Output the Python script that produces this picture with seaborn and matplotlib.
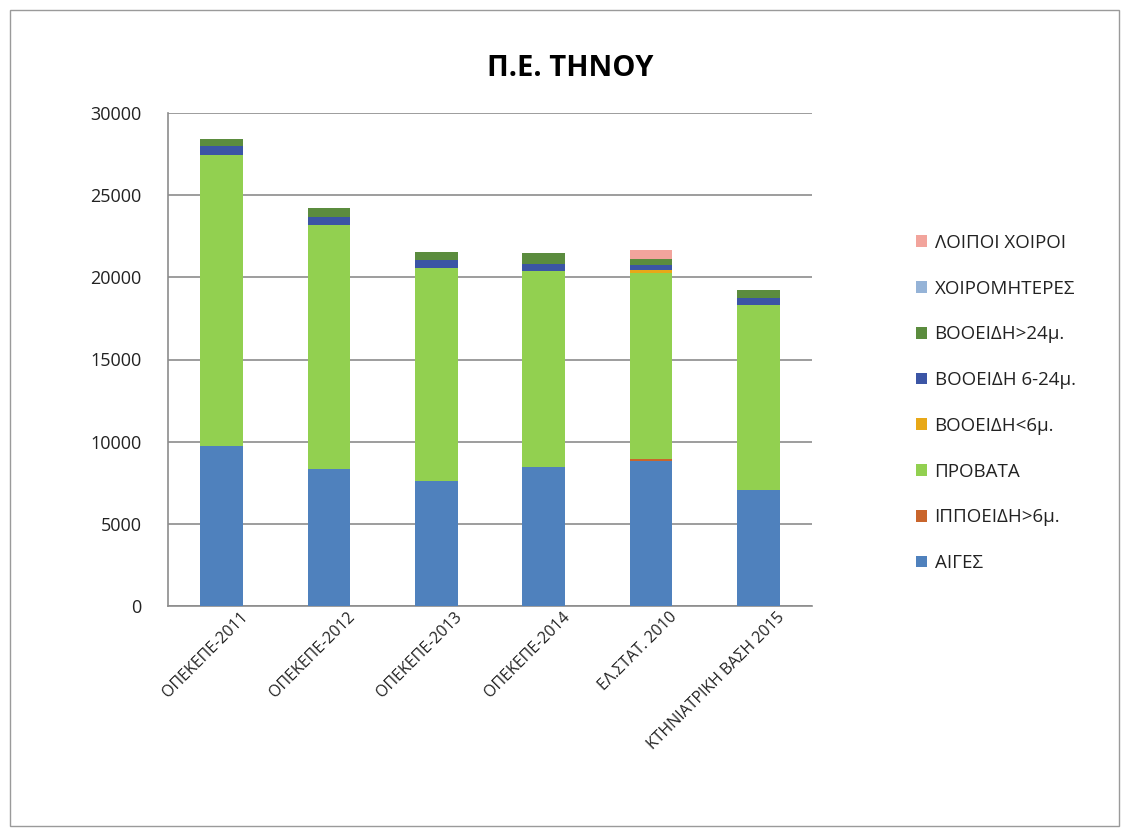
import matplotlib
matplotlib.use("Agg")
import matplotlib.pyplot as plt
import matplotlib.transforms as mtransforms
import seaborn as sns
import numpy as np
from matplotlib.patches import Rectangle, Patch

categories = ["ΟΠΕΚΕΠΕ-2011", "ΟΠΕΚΕΠΕ-2012", "ΟΠΕΚΕΠΕ-2013", "ΟΠΕΚΕΠΕ-2014",
              "ΕΛ.ΣΤΑΤ. 2010", "ΚΤΗΝΙΑΤΡΙΚΗ ΒΑΣΗ 2015"]

series_names = ["ΑΙΓΕΣ", "ΙΠΠΟΕΙΔΗ>6μ.", "ΠΡΟΒΑΤΑ", "ΒΟΟΕΙΔΗ<6μ.",
                "ΒΟΟΕΙΔΗ 6-24μ.", "ΒΟΟΕΙΔΗ>24μ.", "ΧΟΙΡΟΜΗΤΕΡΕΣ", "ΛΟΙΠΟΙ ΧΟΙΡΟΙ"]

aiges = [9750, 8350, 7580, 8460, 8830, 7060]
ippoeidi = [0, 0, 0, 0, 100, 0]
provata = [17700, 14840, 12970, 11930, 11320, 11260]
vooeidi_lt6 = [0, 0, 0, 0, 200, 0]
vooeidi_6_24 = [550, 490, 500, 400, 300, 430]
vooeidi_gt24 = [400, 550, 500, 670, 350, 480]
xoiromiteres = [0, 0, 0, 0, 0, 0]
loipoi_xoiroi = [0, 0, 0, 0, 570, 0]

series_values = [aiges, ippoeidi, provata, vooeidi_lt6, vooeidi_6_24,
                 vooeidi_gt24, xoiromiteres, loipoi_xoiroi]
colors = ["#4F81BD", "#C9652C", "#92D050", "#E8A818", "#3B55A5",
          "#5B8C3E", "#95B3D7", "#F2A49C"]

sns.set_style("white")
plt.rcParams["font.family"] = ["Open Sans", "DejaVu Sans"]

fig = plt.figure(figsize=(11.29, 8.36), dpi=100)
ax = fig.add_axes([168 / 1129, 1 - 606 / 836, (812 - 168) / 1129, (606 - 113) / 836])

bottom = np.zeros(len(categories))
for name, vals, col in zip(series_names, series_values, colors):
    vals = np.array(vals, dtype=float)
    sns.barplot(x=categories, y=vals, bottom=bottom, color=col, width=0.4,
                saturation=1, ax=ax, order=categories, linewidth=0, zorder=3)
    bottom = bottom + vals

ax.set_ylim(0, 30000)
ax.set_xlim(-0.5, len(categories) - 0.5)
ax.set_yticks(np.arange(0, 30001, 5000))
ax.yaxis.grid(True, color="#8C8C8C", linewidth=1.2, zorder=0)
ax.set_axisbelow(True)
for s in ["top", "right"]:
    ax.spines[s].set_visible(False)
for s in ["left", "bottom"]:
    ax.spines[s].set_color("#8C8C8C")
    ax.spines[s].set_linewidth(1.2)

ax.tick_params(axis="y", which="major", direction="out", length=6, color="#8C8C8C",
               labelsize=13, labelcolor="#222222", pad=13)
ax.set_xticks(np.arange(len(categories)))
ax.set_xticklabels(categories, rotation=45, ha="right", rotation_mode="anchor",
                   fontsize=11.5, color="#222222")
ax.tick_params(axis="x", which="major", length=0, pad=8)
offset = mtransforms.ScaledTranslation(18 / 100, 8 / 100, fig.dpi_scale_trans)
for lbl in ax.get_xticklabels():
    lbl.set_transform(lbl.get_transform() + offset)
ax.set_xticks(np.arange(-0.5, len(categories) + 0.5, 1), minor=True)
ax.tick_params(axis="x", which="minor", direction="out", length=6, color="#8C8C8C")
ax.set_xlabel("")
ax.set_ylabel("")

fig.text(0.505, 1 - 68 / 836, "Π.Ε. ΤΗΝΟΥ", ha="center", va="center",
         fontsize=21, fontweight="bold", color="#000000")

handles = [Patch(facecolor=c, edgecolor="none", label=n)
           for n, c in zip(series_names, colors)][::-1]
fig.legend(handles=handles, loc="upper left", bbox_to_anchor=(899 / 1129, 1 - 217 / 836),
           frameon=False, fontsize=13.5, labelspacing=1.48, handlelength=0.6,
           handleheight=0.6, handletextpad=0.4, labelcolor="#222222")

fig.add_artist(Rectangle((10 / 1129, 10 / 836), 1109 / 1129, 816 / 836,
                         transform=fig.transFigure, fill=False, edgecolor="#9A9A9A",
                         linewidth=1.0))

fig.savefig("out.png", dpi=100)
